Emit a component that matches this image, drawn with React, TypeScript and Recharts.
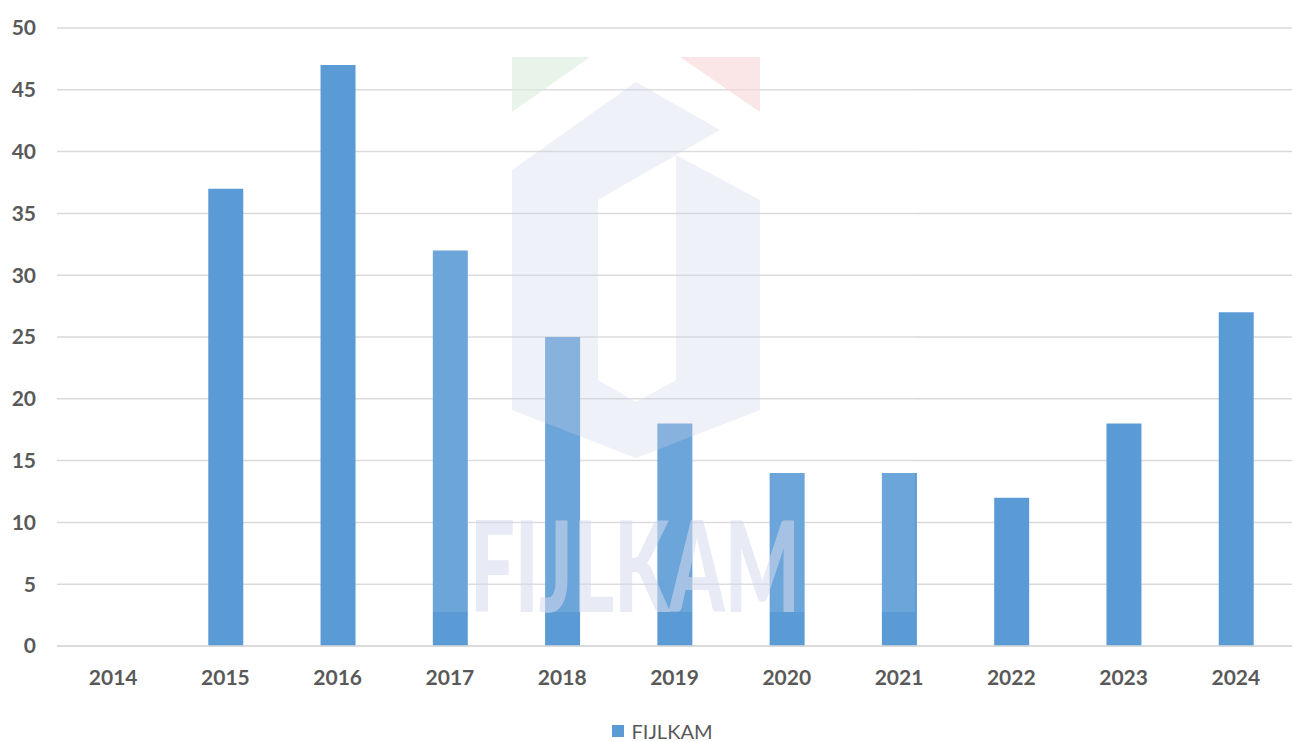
import React from "react";
import { BarChart, Bar, XAxis, YAxis, CartesianGrid, Legend } from "recharts";

const years = ["2014", "2015", "2016", "2017", "2018", "2019", "2020", "2021", "2022", "2023", "2024"];
const fijlkam = [0, 37, 47, 32, 25, 18, 14, 14, 12, 18, 27];
const yTicks = [0, 5, 10, 15, 20, 25, 30, 35, 40, 45, 50];

const data = years.map((y, i) => ({ year: y, FIJLKAM: fijlkam[i] }));

if (typeof document !== "undefined") {
  document.body.style.margin = "0";
}

const FONT = "Lato, 'Open Sans', 'DejaVu Sans', sans-serif";

const renderLegend = () => (
  <div
    style={{
      display: "flex",
      justifyContent: "center",
      alignItems: "center",
      fontFamily: FONT,
      height: 20,
      lineHeight: "20px",
      paddingLeft: 32,
    }}
  >
    <span style={{ display: "inline-block", width: 12, height: 12, background: "#5B9BD5", marginRight: 8 }} />
    <span style={{ fontSize: 20, lineHeight: "20px", color: "#595959" }}>FIJLKAM</span>
  </div>
);

export default function App() {
  return (
    <div style={{ position: "relative", width: 1295, height: 742, background: "#fff", overflow: "hidden" }}>
      <BarChart
        width={1295}
        height={742}
        data={data}
        margin={{ top: 28, right: 3, left: 0, bottom: 6 }}
      >
        <CartesianGrid vertical={false} stroke="#d9d9d9" strokeWidth={1.5} />
        <XAxis
          dataKey="year"
          axisLine={{ stroke: "#d9d9d9", strokeWidth: 1.5 }}
          tickLine={false}
          tickSize={0}
          tickMargin={24}
          height={70}
          interval={0}
          tick={{ fill: "#595959", fontSize: 21, fontWeight: 700, fontFamily: FONT }}
        />
        <YAxis
          domain={[0, 50]}
          ticks={yTicks}
          axisLine={false}
          tickLine={false}
          tickSize={0}
          tickMargin={21}
          width={57}
          interval={0}
          tick={{ fill: "#595959", fontSize: 21, fontWeight: 700, fontFamily: FONT }}
        />
        <Bar dataKey="FIJLKAM" fill="#5B9BD5" barSize={35} isAnimationActive={false} />
        <Legend verticalAlign="bottom" height={20} content={renderLegend} wrapperStyle={{ bottom: 1 }} />
      </BarChart>
      <svg
        width={1295}
        height={742}
        style={{ position: "absolute", left: 0, top: 0, pointerEvents: "none" }}
      >
        <rect x={360} y={57} width={555} height={555} fill="#ffffff" opacity={0.1} />
        <polygon points="512,57 590,57 512,112" fill="#d8eddc" opacity={0.6} />
        <polygon points="680,57 760,57 760,112" fill="#f6d6d6" opacity={0.6} />
        <path
          d="M636,82 L720,130 L636,178 L598,200 L598,380 L636,402 L676,380 L676,155 L760,200 L760,410 L636,458 L512,410 L512,170 Z"
          fill="#c9cfe8"
          opacity={0.3}
        />
        <text
          x={470}
          y={612}
          textLength={330}
          lengthAdjust="spacingAndGlyphs"
          fontFamily={FONT}
          fontWeight={900}
          fontSize={125}
          fill="#d6dbef"
          opacity={0.55}
        >
          FIJLKAM
        </text>
      </svg>
    </div>
  );
}
